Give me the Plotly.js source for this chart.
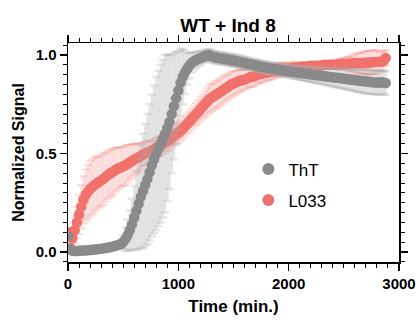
<!DOCTYPE html>
<html><head><meta charset="utf-8">
<script src="https://cdn.plot.ly/plotly-3.0.1.min.js"></script>
<style>html,body{margin:0;padding:0;background:#fff}#chart{width:420px;height:322px}</style>
</head><body><div id="chart"></div>
<script>
const time = [
  0,20,40,60,80,100,120,140,160,180,
  200,220,240,260,280,300,320,340,360,380,
  400,420,440,460,480,500,520,540,560,580,
  600,620,640,660,680,700,720,740,760,780,
  800,820,840,860,880,900,920,940,960,980,
  1000,1020,1040,1060,1080,1100,1120,1140,1160,1180,
  1200,1220,1240,1260,1280,1300,1320,1340,1360,1380,
  1400,1420,1440,1460,1480,1500,1520,1540,1560,1580,
  1600,1620,1640,1660,1680,1700,1720,1740,1760,1780,
  1800,1820,1840,1860,1880,1900,1920,1940,1960,1980,
  2000,2020,2040,2060,2080,2100,2120,2140,2160,2180,
  2200,2220,2240,2260,2280,2300,2320,2340,2360,2380,
  2400,2420,2440,2460,2480,2500,2520,2540,2560,2580,
  2600,2620,2640,2660,2680,2700,2720,2740,2760,2780,
  2800,2820,2840,2860,2880];
const tht = [
  0.08,0.015,0.006,0.005,0.005,0.006,0.007,0.007,0.008,0.009,
  0.01,0.011,0.012,0.013,0.015,0.016,0.018,0.02,0.022,0.024,
  0.027,0.03,0.033,0.036,0.04,0.05,0.065,0.085,0.11,0.14,
  0.175,0.21,0.245,0.28,0.31,0.34,0.37,0.405,0.44,0.47,
  0.5,0.525,0.55,0.575,0.6,0.63,0.66,0.7,0.74,0.78,
  0.82,0.86,0.89,0.912,0.93,0.947,0.96,0.968,0.975,0.98,
  0.985,0.99,0.995,0.998,1.0,0.995,0.99,0.988,0.985,0.984,
  0.982,0.98,0.978,0.976,0.974,0.972,0.97,0.967,0.965,0.962,
  0.96,0.957,0.955,0.952,0.95,0.947,0.945,0.942,0.94,0.938,
  0.936,0.934,0.932,0.93,0.928,0.926,0.924,0.922,0.92,0.918,
  0.917,0.915,0.914,0.912,0.911,0.909,0.908,0.906,0.905,0.903,
  0.902,0.9,0.899,0.897,0.896,0.894,0.893,0.891,0.89,0.888,
  0.887,0.885,0.884,0.883,0.882,0.88,0.879,0.877,0.876,0.874,
  0.873,0.871,0.87,0.868,0.867,0.866,0.865,0.863,0.862,0.861,
  0.86,0.861,0.862,0.859,0.858];
const thtErr = [
  0.01,0.01,0.01,0.01,0.01,0.01,0.01,0.01,0.01,0.01,
  0.01,0.01,0.01,0.01,0.01,0.01,0.01,0.01,0.01,0.01,
  0.01,0.01,0.01,0.012,0.02,0.035,0.06,0.08,0.1,0.13,
  0.16,0.2,0.23,0.26,0.29,0.31,0.33,0.345,0.36,0.375,
  0.39,0.395,0.4,0.4,0.4,0.37,0.34,0.3,0.27,0.235,
  0.2,0.17,0.14,0.11,0.08,0.065,0.05,0.045,0.04,0.037,
  0.035,0.03,0.03,0.03,0.03,0.03,0.03,0.03,0.03,0.03,
  0.03,0.03,0.03,0.03,0.03,0.03,0.03,0.03,0.03,0.03,
  0.03,0.03,0.03,0.03,0.03,0.03,0.03,0.03,0.03,0.03,
  0.03,0.03,0.03,0.03,0.03,0.03,0.03,0.03,0.03,0.03,
  0.03,0.031,0.032,0.033,0.033,0.034,0.035,0.035,0.036,0.037,
  0.037,0.038,0.039,0.04,0.04,0.041,0.042,0.043,0.044,0.045,
  0.046,0.047,0.048,0.049,0.05,0.051,0.052,0.053,0.054,0.055,
  0.056,0.057,0.058,0.059,0.06,0.06,0.06,0.06,0.06,0.06,
  0.06,0.06,0.06,0.06,0.06];
const l033 = [
  0.10,0.02,0.07,0.11,0.15,0.19,0.23,0.265,0.29,0.305,
  0.32,0.33,0.34,0.348,0.355,0.362,0.37,0.38,0.39,0.398,
  0.405,0.412,0.42,0.425,0.43,0.435,0.44,0.448,0.455,0.462,
  0.47,0.475,0.48,0.488,0.495,0.5,0.505,0.51,0.515,0.522,
  0.53,0.535,0.54,0.548,0.555,0.562,0.57,0.58,0.59,0.598,
  0.605,0.615,0.625,0.638,0.65,0.662,0.675,0.688,0.7,0.712,
  0.725,0.738,0.75,0.763,0.775,0.783,0.79,0.798,0.805,0.812,
  0.82,0.828,0.835,0.843,0.85,0.855,0.86,0.865,0.87,0.872,
  0.875,0.88,0.885,0.888,0.89,0.895,0.9,0.903,0.905,0.908,
  0.91,0.913,0.915,0.918,0.92,0.923,0.925,0.928,0.93,0.93,
  0.93,0.933,0.935,0.935,0.935,0.938,0.94,0.94,0.94,0.942,
  0.945,0.945,0.945,0.945,0.945,0.948,0.95,0.95,0.95,0.95,
  0.95,0.951,0.952,0.954,0.955,0.955,0.955,0.956,0.957,0.958,
  0.96,0.959,0.958,0.959,0.96,0.961,0.962,0.962,0.963,0.964,
  0.965,0.966,0.967,0.97,0.985];
const l033Err = [
  0.02,0.03,0.05,0.07,0.08,0.1,0.11,0.12,0.13,0.135,
  0.14,0.14,0.14,0.135,0.13,0.13,0.13,0.125,0.12,0.12,
  0.12,0.115,0.11,0.105,0.1,0.1,0.1,0.095,0.09,0.085,
  0.08,0.075,0.07,0.065,0.06,0.06,0.06,0.055,0.05,0.05,
  0.05,0.05,0.05,0.05,0.05,0.05,0.05,0.05,0.05,0.05,
  0.05,0.05,0.05,0.05,0.05,0.05,0.05,0.052,0.055,0.058,
  0.06,0.062,0.065,0.068,0.07,0.07,0.07,0.07,0.07,0.07,
  0.07,0.068,0.065,0.065,0.065,0.062,0.06,0.058,0.055,0.052,
  0.05,0.05,0.05,0.05,0.05,0.048,0.046,0.045,0.044,0.042,
  0.04,0.04,0.04,0.038,0.036,0.035,0.034,0.033,0.032,0.031,
  0.03,0.029,0.028,0.027,0.026,0.025,0.024,0.023,0.022,0.021,
  0.02,0.02,0.02,0.02,0.02,0.02,0.02,0.02,0.02,0.02,
  0.02,0.022,0.024,0.026,0.028,0.03,0.032,0.034,0.037,0.04,
  0.045,0.05,0.05,0.055,0.055,0.06,0.06,0.06,0.06,0.06,
  0.06,0.05,0.05,0.05,0.04];
const names = ['ThT','L033'];

const FONT = 'Liberation Sans, Arial, sans-serif';
const traces = [
  {x: time, y: l033, name: names[1], legendgroup:'b', legendrank:2, type:'scatter', mode:'markers',
   marker:{color:'#F1716C', size:10.5},
   error_y:{type:'data', array:l033Err, visible:true, color:'rgba(241,113,108,0.25)', thickness:2, width:4}},
  {x: time, y: tht, name: names[0], legendgroup:'a', legendrank:1, type:'scatter', mode:'markers',
   marker:{color:'#8A8A8A', size:10.5},
   error_y:{type:'data', array:thtErr, visible:true, color:'rgba(170,170,170,0.3)', thickness:2.5, width:4}}
];
const tickfont = {family:FONT, size:15, color:'#000', weight:'bold'};
const layout = {
  width:420, height:322,
  margin:{l:68, r:21, t:43, b:60},
  paper_bgcolor:'#fff', plot_bgcolor:'#fff',
  title:{text:'WT + Ind 8', x:0.543, xanchor:'center', y:0.922, yanchor:'middle',
         font:{family:FONT, size:19, color:'#000', weight:'bold'}},
  showlegend:true,
  legend:{x:0.545, y:0.505, xanchor:'left', yanchor:'top', bgcolor:'rgba(0,0,0,0)', traceorder:'grouped',
          tracegroupgap:6, font:{family:FONT, size:17, color:'#000'}, itemsizing:'constant'},
  xaxis:{range:[0,3000], tickvals:[0,1000,2000,3000], ticktext:['0','1000','2000','3000'],
         ticks:'outside', ticklen:7, tickwidth:1.2, tickcolor:'#000',
         showline:true, linecolor:'#000', linewidth:1.5, mirror:'allticks',
         showgrid:false, zeroline:false, tickfont:tickfont,
         minor:{dtick:100, ticks:'outside', ticklen:4, tickwidth:1, tickcolor:'#000', showgrid:false},
         title:{text:'Time (min.)', standoff:9, font:{family:FONT, size:17, color:'#000', weight:'bold'}}},
  yaxis:{range:[-0.051,1.061], tickvals:[0,0.5,1.0], ticktext:['0.0','0.5','1.0'],
         ticks:'outside', ticklen:7, tickwidth:1.2, tickcolor:'#000',
         showline:true, linecolor:'#000', linewidth:1.5, mirror:'allticks',
         showgrid:false, zeroline:false, tickfont:tickfont,
         minor:{dtick:0.05, tick0:0, ticks:'outside', ticklen:4, tickwidth:1, tickcolor:'#000', showgrid:false},
         title:{text:'Normalized Signal', standoff:7, font:{family:FONT, size:16, color:'#000', weight:'bold'}}}
};
Plotly.newPlot('chart', traces, layout, {displayModeBar:false, staticPlot:true});
</script></body></html>
